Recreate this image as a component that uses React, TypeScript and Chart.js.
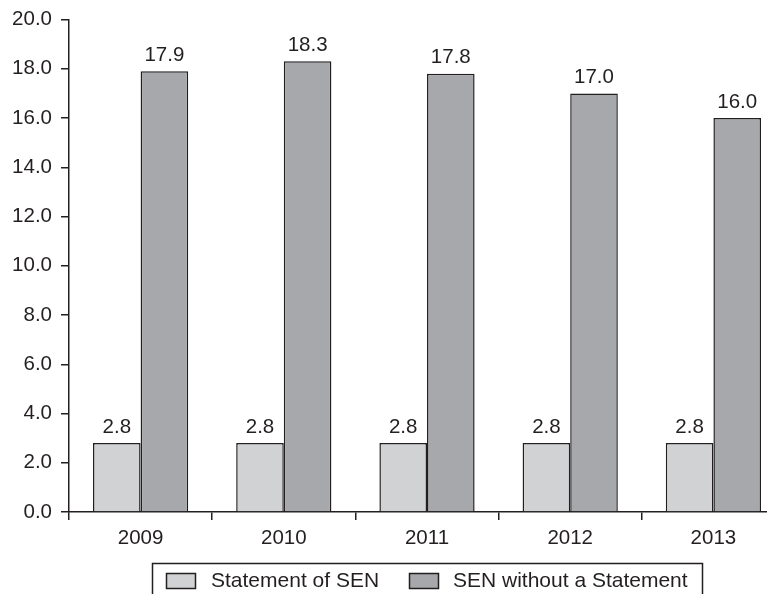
import React, { useEffect, useRef } from "react";
import { Chart, registerables } from "chart.js";

Chart.register(...registerables);

const categories = ["2009", "2010", "2011", "2012", "2013"];
const statementOfSEN = [2.8, 2.8, 2.8, 2.8, 2.8];
const senWithoutStatement = [17.9, 18.3, 17.8, 17.0, 16.0];
const seriesLabels = ["Statement of SEN", "SEN without a Statement"];
const seriesColors = ["#d1d2d4", "#a7a8ab"];

const FONT = "'Liberation Sans', Arial, Helvetica, sans-serif";
const INK = "#231f20";

const valueLabels = {
  id: "valueLabels",
  afterDatasetsDraw(chart: any) {
    const ctx = chart.ctx;
    ctx.save();
    ctx.font = `20.5px ${FONT}`;
    ctx.fillStyle = INK;
    ctx.textAlign = "center";
    ctx.textBaseline = "alphabetic";
    chart.data.datasets.forEach((ds: any, i: number) => {
      const meta = chart.getDatasetMeta(i);
      meta.data.forEach((bar: any, j: number) => {
        ctx.fillText(Number(ds.data[j]).toFixed(1), bar.x, bar.y - 10.5);
      });
    });
    ctx.restore();
  },
};

const boxedLegend = {
  id: "boxedLegend",
  afterDraw(chart: any) {
    const ctx = chart.ctx;
    ctx.save();
    ctx.strokeStyle = INK;
    ctx.lineWidth = 1.5;
    ctx.strokeRect(144.5, 555.5, 550, 60);
    const swX = [158, 401];
    const txX = [203, 445];
    ctx.font = `21px ${FONT}`;
    ctx.textAlign = "left";
    ctx.textBaseline = "alphabetic";
    chart.data.datasets.forEach((ds: any, i: number) => {
      ctx.fillStyle = ds.backgroundColor;
      ctx.fillRect(swX[i] + 0.5, 565.5, 29, 15);
      ctx.lineWidth = 1.5;
      ctx.strokeStyle = INK;
      ctx.strokeRect(swX[i] + 0.5, 565.5, 29, 15);
      ctx.fillStyle = INK;
      ctx.fillText(ds.label, txX[i], 579);
    });
    ctx.restore();
  },
};

export default function App() {
  const ref = useRef<HTMLCanvasElement>(null);
  useEffect(() => {
    document.documentElement.style.overflow = "hidden";
    document.body.style.overflow = "hidden";
    const chart = new Chart(ref.current!, {
      type: "bar",
      data: {
        labels: categories,
        datasets: [
          {
            label: seriesLabels[0],
            data: statementOfSEN,
            backgroundColor: seriesColors[0],
            borderColor: INK,
            borderWidth: 1.5,
            categoryPercentage: 0.665,
            barPercentage: 1,
          },
          {
            label: seriesLabels[1],
            data: senWithoutStatement,
            backgroundColor: seriesColors[1],
            borderColor: INK,
            borderWidth: 1.5,
            categoryPercentage: 0.665,
            barPercentage: 1,
          },
        ],
      },
      options: {
        responsive: false,
        animation: false,
        devicePixelRatio: 1,
        layout: { padding: { top: 11.5, right: 0, bottom: 0, left: 0 } },
        plugins: {
          legend: { display: false },
          tooltip: { enabled: false },
        },
        scales: {
          x: {
            offset: true,
            grid: {
              offset: true,
              drawOnChartArea: false,
              drawTicks: true,
              tickLength: 8,
              color: INK,
              lineWidth: 1.5,
            },
            border: { display: true, color: INK, width: 1.5 },
            ticks: {
              color: INK,
              padding: 8,
              font: { family: FONT, size: 20.5, lineHeight: 1 },
              maxRotation: 0,
            },
            afterFit: (scale: any) => {
              scale.height = 82;
              scale.paddingLeft = 0;
              scale.paddingRight = 0;
            },
          },
          y: {
            min: 0,
            max: 20,
            grid: {
              drawOnChartArea: false,
              drawTicks: true,
              tickLength: 8,
              color: INK,
              lineWidth: 1.5,
            },
            border: { display: true, color: INK, width: 1.5 },
            ticks: {
              stepSize: 2,
              color: INK,
              padding: 9,
              font: { family: FONT, size: 20.5, lineHeight: 1 },
              callback: (v: any) => Number(v).toFixed(1),
            },
            afterFit: (scale: any) => {
              scale.width = 61;
              scale.paddingTop = 0;
              scale.paddingBottom = 0;
            },
          },
        },
      },
      plugins: [valueLabels, boxedLegend],
    });
    return () => chart.destroy();
  }, []);
  return (
    <div style={{ width: 777, height: 586 }}>
      <canvas ref={ref} width={777} height={586} style={{ display: "block" }} />
    </div>
  );
}
